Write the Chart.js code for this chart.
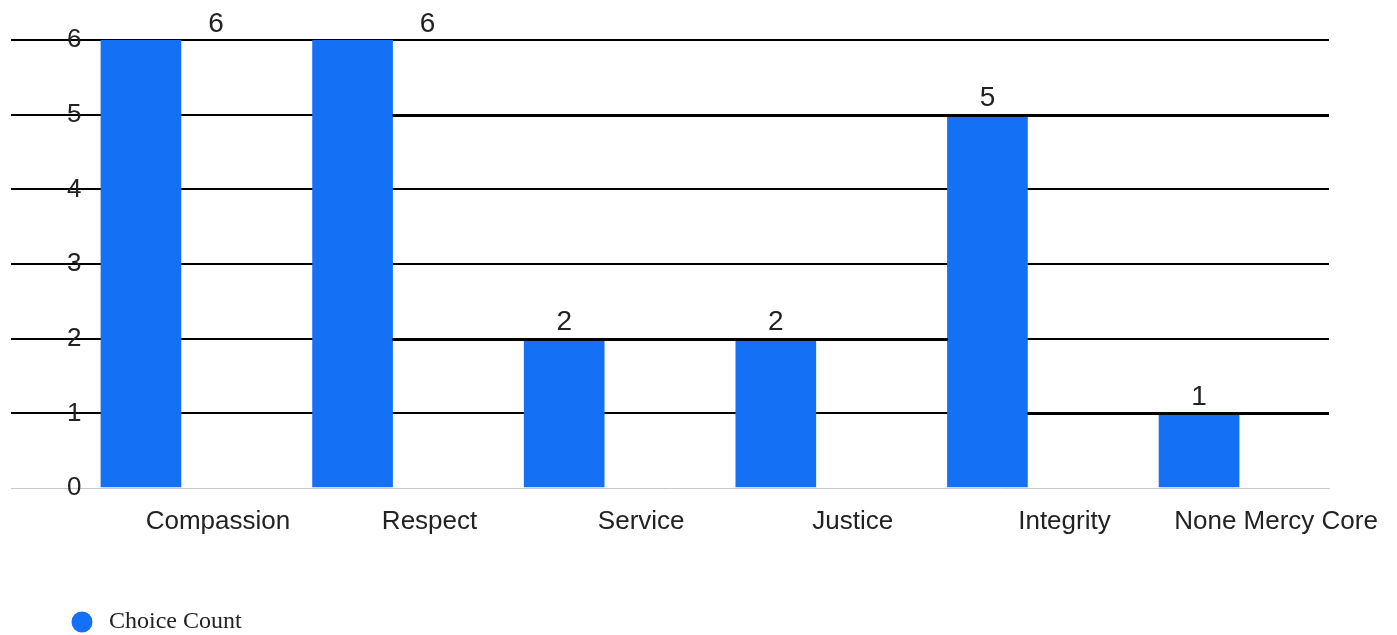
<!DOCTYPE html>
<html><head><meta charset="utf-8">
<script src="https://cdn.jsdelivr.net/npm/chart.js@4"></script>
<style>html,body{margin:0;padding:0;background:#fff;overflow:hidden}</style>
</head><body>
<canvas id="c" width="1397" height="635"></canvas>
<script>
const categories = ['Compassion', 'Respect', 'Service', 'Justice', 'Integrity', 'None Mercy Core'];
const choiceCounts = [6, 6, 2, 2, 5, 1];
const yTicks = [0, 1, 2, 3, 4, 5, 6];
const seriesName = 'Choice Count';

const BLUE = '#1470f5';
const TEXT = '#222222';
const SANS = '"Liberation Sans", Arial, sans-serif';
const SERIF = '"Liberation Serif", "Times New Roman", serif';
const xPad = 0.614;

// legend marker
const dot = document.createElement('canvas');
dot.width = 24; dot.height = 24;
const g = dot.getContext('2d');
g.fillStyle = BLUE; g.beginPath(); g.arc(13, 12, 10.5, 0, Math.PI * 2); g.fill();

// heavier level lines between taller bars, then value labels
const barOverlays = {
  id: 'barOverlays',
  afterDatasetsDraw(chart) {
    const ctx = chart.ctx, area = chart.chartArea;
    const meta = chart.getDatasetMeta(0);
    const ds = chart.data.datasets[0];
    const vals = ds.data.map(d => d.y);
    const maxV = chart.scales.y.max;
    ctx.save();
    ctx.fillStyle = '#000000';
    meta.data.forEach((bar, i) => {
      const v = vals[i];
      if (v >= maxV) return;
      let l = area.left, r = area.right;
      for (let j = i - 1; j >= 0; j--) { if (vals[j] > v) { l = meta.data[j].x + meta.data[j].width / 2; break; } }
      for (let j = i + 1; j < vals.length; j++) { if (vals[j] > v) { r = meta.data[j].x - meta.data[j].width / 2; break; } }
      const y = Math.round(bar.y);
      ctx.fillRect(l, y - 1, r - l, 3);
    });
    ctx.font = '28px ' + SANS;
    ctx.fillStyle = TEXT;
    ctx.textAlign = 'center';
    ctx.textBaseline = 'middle';
    meta.data.forEach((bar, i) => {
      const v = vals[i];
      let x = bar.x, y = bar.y - 16;
      if (y - 14 < area.top) x = bar.x + bar.width / 2 + 35;
      ctx.fillText(String(v), x, y);
    });
    ctx.restore();
  }
};

const noScalePadding = s => { s.paddingTop = 0; s.paddingBottom = 0; s.paddingLeft = 0; s.paddingRight = 0; };

new Chart(document.getElementById('c'), {
  type: 'bar',
  data: {
    datasets: [{
      label: seriesName,
      data: categories.map((c, i) => ({ x: i, y: choiceCounts[i] })),
      backgroundColor: BLUE,
      borderWidth: 0,
      barThickness: 80
    }]
  },
  options: {
    responsive: false,
    animation: false,
    devicePixelRatio: 1,
    layout: { padding: { top: 40, left: 11, right: 68, bottom: -9 } },
    plugins: {
      tooltip: { enabled: false },
      legend: {
        position: 'bottom',
        align: 'start',
        labels: {
          usePointStyle: true,
          pointStyle: dot,
          pointStyleWidth: 32,
          padding: 54,
          color: TEXT,
          font: { family: SERIF, size: 24 }
        }
      }
    },
    scales: {
      x: {
        type: 'linear',
        offset: false,
        bounds: 'data',
        min: -xPad,
        max: categories.length - 1 + xPad,
        afterBuildTicks: s => { s.ticks = categories.map((c, i) => ({ value: i })); },
        afterFit: noScalePadding,
        grid: { display: false, drawTicks: false, offset: false },
        border: { display: true, color: '#c8c8c8', width: 1 },
        ticks: {
          autoSkip: false,
          maxRotation: 0,
          padding: 18.4,
          labelOffset: 77,
          color: TEXT,
          font: { family: SANS, size: 26 },
          callback: v => categories[v]
        }
      },
      y: {
        min: 0,
        max: 6,
        afterFit: s => { s.width = 0; noScalePadding(s); },
        afterBuildTicks: s => { s.ticks = yTicks.map(v => ({ value: v })); },
        border: { display: false },
        grid: {
          drawTicks: false,
          lineWidth: 2,
          color: c => (c.tick && c.tick.value === 0) ? 'rgba(0,0,0,0)' : '#000000'
        },
        ticks: {
          mirror: true,
          padding: 56,
          color: TEXT,
          font: { family: SANS, size: 26 }
        }
      }
    }
  },
  plugins: [barOverlays]
});
</script>
</body></html>
